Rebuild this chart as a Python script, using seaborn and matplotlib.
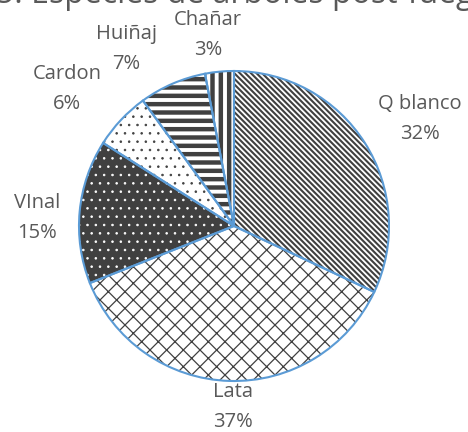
import matplotlib
matplotlib.use("Agg")
import matplotlib.pyplot as plt
import seaborn as sns
import numpy as np

sns.set_theme(style="white")
plt.rcParams['font.family'] = ['Open Sans', 'DejaVu Sans']

species = ["Q blanco", "Lata", "VInal", "Cardon", "Huiñaj", "Chañar"]
percent = [32, 37, 15, 6, 7, 3]
title = "5. Especies de árboles post-fuego"

face_colors = ["white", "white", "#404040", "white", "white", "white"]
hatch_colors = ["#404040", "#404040", "white", "#404040", "#404040", "#404040"]
hatches = ["\\" * 6, "xx", "..", "..", "--", "||"]
hatch_lw = [1.5, 0.9, 0.6, 0.6, 3.2, 3.2]
# label block centres (pixel positions in figure)
label_px = [(420, 119), (233, 407), (37, 218), (67, 89), (126, 49), (208, 35)]

W, H = 468, 432
cx, cy, R = 234, 226, 155

fig = plt.figure(figsize=(W / 100, H / 100), dpi=100)
ax = fig.add_axes([0, 0, 1, 1])

wedges, _ = ax.pie(percent, startangle=90, counterclock=False, radius=1,
                   colors=face_colors,
                   wedgeprops=dict(linewidth=0))
for w, h, hc, lw in zip(wedges, hatches, hatch_colors, hatch_lw):
    w.set_hatch(h)
    w.set_edgecolor(hc)
    w.set_linewidth(0)
    if hasattr(w, "set_hatch_linewidth"):
        w.set_hatch_linewidth(lw)

ax.pie(percent, startangle=90, counterclock=False, radius=1,
       wedgeprops=dict(fill=False, edgecolor="#5B9BD5", linewidth=1.5))

ax.set_aspect("auto")
ax.set_xlim(-cx / R, (W - cx) / R)
ax.set_ylim(-(H - cy) / R, cy / R)
ax.axis("off")

for name, p, (px, py) in zip(species, percent, label_px):
    ax.text((px - cx) / R, (cy - py) / R, f"{name}\n{p}%", ha="center", va="center",
            fontsize=14.5, color="#595959", linespacing=1.7)

fig.text(-0.008, 1 - 3 / H, title, ha="left", va="baseline", fontsize=23, color="#595959")

fig.savefig("out.png", dpi=100)
